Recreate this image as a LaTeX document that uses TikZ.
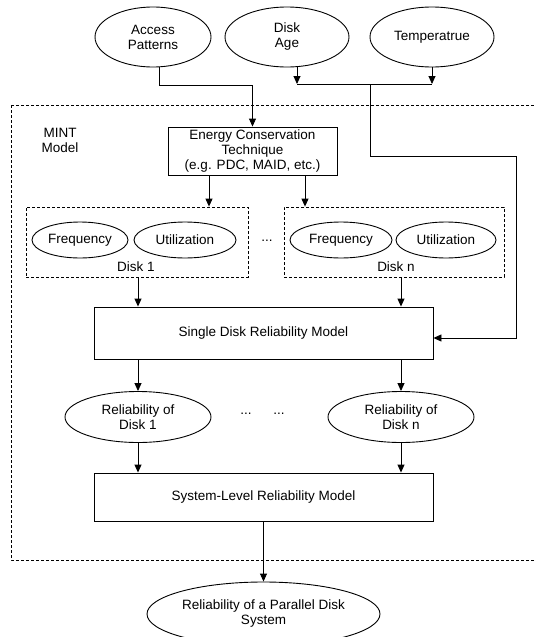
\documentclass[tikz,border=0pt]{standalone}
\usepackage{fontspec}
\setmainfont{Liberation Sans}
\usetikzlibrary{shapes.geometric,arrows.meta}
\begin{document}
\begin{tikzpicture}[x=1pt,y=-1pt,
  font=\fontsize{13.5}{15}\selectfont,
  line width=0.9pt,
  ell/.style={ellipse,draw,inner sep=0pt,align=center},
  box/.style={rectangle,draw,inner sep=0pt,align=center},
  dbox/.style={rectangle,draw,line width=0.8pt,dash pattern=on 3pt off 2pt,inner sep=0pt},
  arr/.style={-{Triangle[length=8pt,width=7pt]}},
  lbl/.style={inner sep=0pt,align=center}]
\useasboundingbox (0,0) rectangle (533,637);
\fill[white] (0,0) rectangle (533,637);

% outer dashed frame
\draw[line width=0.8pt,dash pattern=on 3pt off 2pt] (11,105) rectangle (545,560);
\node[lbl] (mint) at (60,140) {MINT\\Model};

% top inputs
\node[ell,minimum width=116pt,minimum height=60pt] (ap) at (153,37) {Access\\Patterns};
\node[ell,minimum width=124pt,minimum height=60pt] (da) at (287,37) {Disk\\Age};
\node[ell,minimum width=124pt,minimum height=60pt] (te) at (432,37) {Temperatrue};

% energy box
\node[box,minimum width=169pt,minimum height=48pt] (ec) at (252.5,151) {Energy Conservation\\Technique\\(e.g. PDC, MAID, etc.)};

% disk boxes
\node[dbox,minimum width=222pt,minimum height=70pt] (d1) at (137,242) {};
\node[dbox,minimum width=220pt,minimum height=70pt] (dn) at (394,242) {};
\node[ell,minimum width=96pt,minimum height=36pt] (f1) at (80,240) {Frequency};
\node[ell,minimum width=102pt,minimum height=36pt] (u1) at (185,240) {Utilization};
\node[ell,minimum width=102pt,minimum height=36pt] (fn) at (341,240) {Frequency};
\node[ell,minimum width=100pt,minimum height=36pt] (un) at (446,240) {Utilization};
\node[lbl] (l1) at (136,267) {Disk 1};
\node[lbl] (ln) at (396,267) {Disk n};
\node[lbl] (dots1) at (267,241) {...};

% single disk model
\node[box,minimum width=339pt,minimum height=52pt] (sd) at (263.5,333) {Single Disk Reliability Model};

% reliability ellipses
\node[ell,minimum width=146pt,minimum height=51pt] (r1) at (138,417) {Reliability of\\Disk 1};
\node[ell,minimum width=146pt,minimum height=51pt] (rn) at (401,417) {Reliability of\\Disk n};
\node[lbl] (dots2) at (246,414) {...};
\node[lbl] (dots3) at (279,414) {...};

% system model
\node[box,minimum width=339pt,minimum height=48pt] (sy) at (263.5,497) {System-Level Reliability Model};

% final output
\node[ell,minimum width=233pt,minimum height=64pt] (fe) at (263.5,614) {Reliability of a Parallel Disk\\System};

% helper coordinates
\coordinate (j1) at (159,85);
\coordinate (dA) at (297,84);
\coordinate (j3) at (370,84);
\coordinate (j4) at (516,156);
\coordinate (j5) at (516,338);
\coordinate (a1) at (209,0);
\coordinate (a2) at (305,0);

% connectors
\draw[arr] (ap.south -| j1) -- (j1) -| (ec.north);
\draw[arr] (da.south -| dA) -- (dA);
\draw[arr] (te.south) -- (te.south |- dA);
\draw (dA) -- (te.south |- dA);
\draw[arr] (j3) |- (j4) |- (j5 -| sd.east);
\draw[arr] (a1 |- ec.south) -- (a1 |- d1.north);
\draw[arr] (a2 |- ec.south) -- (a2 |- dn.north);
\draw[arr] (r1 |- d1.south) -- (r1 |- sd.north);
\draw[arr] (rn |- dn.south) -- (rn |- sd.north);
\draw[arr] (r1 |- sd.south) -- (r1.north);
\draw[arr] (rn |- sd.south) -- (rn.north);
\draw[arr] (r1.south) -- (r1 |- sy.north);
\draw[arr] (rn.south) -- (rn |- sy.north);
\draw[arr] (sy.south) -- (fe.north);
\end{tikzpicture}
\end{document}
